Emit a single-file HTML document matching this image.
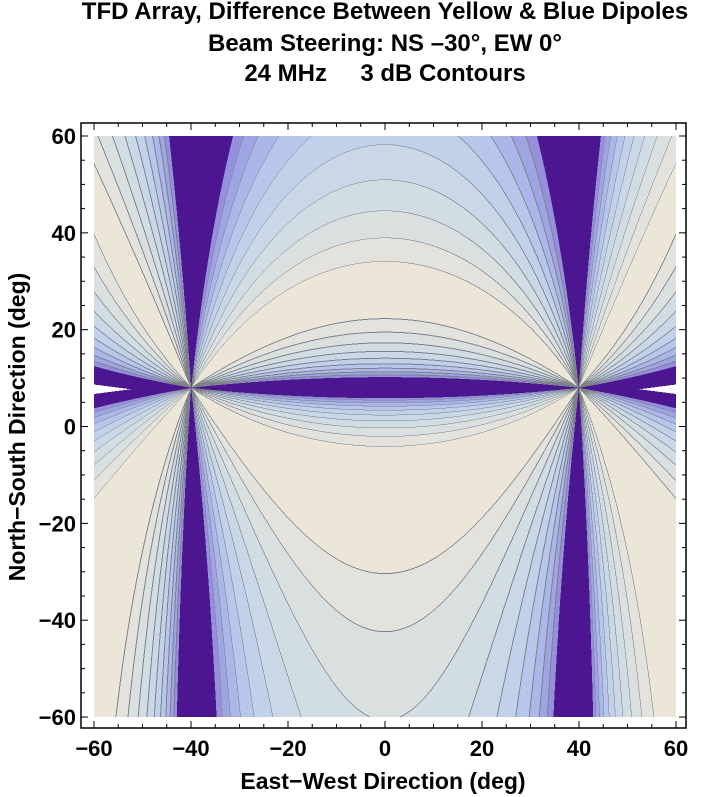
<!DOCTYPE html>
<html><head><meta charset="utf-8"><style>
body{margin:0;background:#fff;width:723px;height:797px;overflow:hidden;position:relative;font-family:"Liberation Sans",sans-serif;font-weight:bold;color:#000}
.t{position:absolute;left:0;width:770px;text-align:center;font-size:24px;line-height:26px}
#cv{position:absolute;left:94px;top:136px;width:582px;height:581px}
svg{position:absolute;left:0;top:0}
</style></head><body>
<div class="t" style="top:-1px">TFD Array, Difference Between Yellow &amp; Blue Dipoles</div>
<div class="t" style="top:31px">Beam Steering: NS –30°, EW 0°</div>
<div class="t" style="top:61px">24 MHz &nbsp;&nbsp;&nbsp; 3 dB Contours</div>
<canvas id="cv" width="1164" height="1162"></canvas>
<svg id="sv" width="723" height="797" xmlns="http://www.w3.org/2000/svg"></svg>
<script>
(function(){
var c=document.getElementById('cv'),g=c.getContext('2d'),W=c.width,H=c.height;
var img=g.createImageData(W,H),d=img.data;
var cols=[[236,230,217],[227,226,220],[218,223,223],[210,220,227],[202,215,231],[193,209,234],[184,198,235],[171,182,233],[159,164,227],[149,144,220],[76,22,144],[255,255,255]];
var N=new Int16Array(W*H);
for(var j=0;j<H;j++){var y=60-120*j/(H-1);var Y=y-8;
 for(var i=0;i<W;i++){var x=-60+120*i/(W-1);var ax=Math.abs(x);
  var X=ax<40?(1600-x*x)/80:(x*x-1600)/50;
  var r=Math.abs(Y)/Math.max(Math.abs(X),1e-6);r=Math.max(r,1e-9);
  var t=Math.abs(Math.log(r))-0.2+0.006*y;
  var n;
  if(t<0.27)n=0;else{n=1+Math.floor((t-0.27)/0.2);if(n>10)n=10;}
  if(ax>52.5&&Math.abs(Y+0.3)<(ax-52.5)*0.13)n=11;
  N[j*W+i]=n;}}
for(var j=0;j<H;j++)for(var i=0;i<W;i++){var k=j*W+i,n=N[k],p=k*4,cc=cols[n];
 var line=false;
 if(n<10){ if(i<W-1&&N[k+1]!=n&&N[k+1]<10)line=true;
  if(j<H-1&&N[k+W]!=n&&N[k+W]<10)line=true;
  if(i>0&&N[k-1]<n)line=true;
  if(j>0&&N[k-W]<n)line=true;}
 if(line)cc=[125,130,138];
 d[p]=cc[0];d[p+1]=cc[1];d[p+2]=cc[2];d[p+3]=255;}
g.putImageData(img,0,0);
var s=document.getElementById('sv'),h='';
var L=81,T=123,R=686,B=728;
h+='<rect x="'+L+'" y="'+T+'" width="'+(R-L)+'" height="'+(B-T)+'" fill="none" stroke="#000" stroke-width="1.5"/>';
function px(v){return 94+(v+60)*4.85;}function py(v){return 136+(60-v)*4.842;}
var F='font-weight="bold" font-family="Liberation Sans, sans-serif"';
for(var v=-60;v<=60;v+=5){var m=(v%20==0),l=m?7:4,X=px(v),Yy=py(v);
 h+='<line x1="'+X+'" y1="'+B+'" x2="'+X+'" y2="'+(B-l)+'" stroke="#000" stroke-width="1"/>';
 h+='<line x1="'+X+'" y1="'+T+'" x2="'+X+'" y2="'+(T+l)+'" stroke="#000" stroke-width="1"/>';
 h+='<line x1="'+L+'" y1="'+Yy+'" x2="'+(L+l)+'" y2="'+Yy+'" stroke="#000" stroke-width="1"/>';
 h+='<line x1="'+R+'" y1="'+Yy+'" x2="'+(R-l)+'" y2="'+Yy+'" stroke="#000" stroke-width="1"/>';
 if(m){var lab=(v<0?'\u2212'+(-v):''+v);
  h+='<text x="'+X+'" y="756" text-anchor="middle" font-size="22" '+F+'>'+lab+'</text>';
  h+='<text x="76" y="'+(Yy+8)+'" text-anchor="end" font-size="22" '+F+'>'+lab+'</text>';}}
h+='<text x="383" y="789" text-anchor="middle" font-size="23" '+F+'>East\u2212West Direction (deg)</text>';
h+='<text transform="translate(25,427) rotate(-90)" text-anchor="middle" font-size="23" '+F+'>North\u2212South Direction (deg)</text>';
s.innerHTML=h;
})();
</script>
</body></html>
